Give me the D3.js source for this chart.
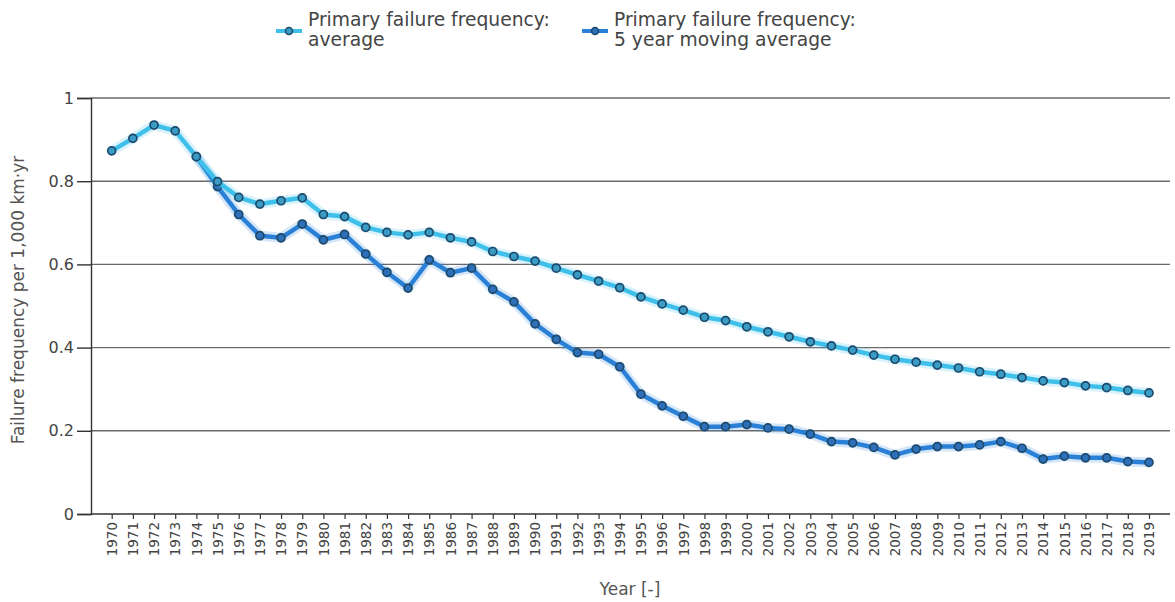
<!DOCTYPE html>
<html>
<head>
<meta charset="utf-8">
<script src="https://cdn.jsdelivr.net/npm/d3@7"></script>
<style>
  html, body { margin: 0; padding: 0; background: #fff; }
  svg { display: block; }
  text { font-family: "DejaVu Sans", Verdana, sans-serif; }
</style>
</head>
<body>
<svg id="chart" width="1175" height="602"></svg>
<script>
const years = d3.range(1970, 2020).map(String);

const averageValues = [
  0.873, 0.903, 0.935, 0.921, 0.859, 0.799, 0.761, 0.745, 0.753, 0.760,
  0.720, 0.715, 0.689, 0.677, 0.671, 0.677, 0.664, 0.654, 0.631, 0.619,
  0.608, 0.591, 0.575, 0.560, 0.544, 0.522, 0.505, 0.490, 0.473, 0.465,
  0.450, 0.438, 0.426, 0.414, 0.404, 0.394, 0.382, 0.372, 0.365, 0.358,
  0.351, 0.342, 0.336, 0.328, 0.320, 0.316, 0.308, 0.304, 0.297, 0.291
];

const movingYears = d3.range(1974, 2020).map(String);
const movingValues = [
  0.859, 0.787, 0.720, 0.669, 0.664, 0.697,
  0.659, 0.672, 0.625, 0.581, 0.543, 0.611, 0.580, 0.591, 0.540, 0.510,
  0.457, 0.420, 0.388, 0.384, 0.354, 0.288, 0.260, 0.235, 0.210, 0.210,
  0.215, 0.207, 0.204, 0.192, 0.174, 0.171, 0.160, 0.142, 0.156, 0.162,
  0.162, 0.166, 0.174, 0.158, 0.132, 0.139, 0.135, 0.135, 0.126, 0.124
];

const yTicks = [0, 0.2, 0.4, 0.6, 0.8, 1];
const yTickLabels = ["0", "0.2", "0.4", "0.6", "0.8", "1"];

const seriesNames = ["Primary failure frequency:|average", "Primary failure frequency:|5 year moving average"];
const seriesColors = ["#3fc0ea", "#2a80d6"];
const markerFill = ["#3a9cc4", "#2d6fb8"];
const markerStroke = "#1d4a6c";

const svg = d3.select("#chart");
const plotLeft = 91, plotRight = 1170, plotTop = 98, plotBottom = 514;

const x = d3.scalePoint().domain(years).range([111.7, 1149]);
const y = d3.scaleLinear().domain([0, 1]).range([plotBottom, plotTop]);

// Gridlines
svg.append("g").selectAll("line").data(yTicks.filter(d => d > 0)).join("line")
  .attr("x1", plotLeft).attr("x2", plotRight)
  .attr("y1", d => y(d)).attr("y2", d => y(d))
  .attr("stroke", "#6a6a6a").attr("stroke-width", 1.4);

// Y axis
const yAxis = d3.axisLeft(y).tickValues(yTicks)
  .tickFormat((d, i) => yTickLabels[i]).tickSize(14).tickPadding(3);
const yg = svg.append("g").attr("transform", `translate(${plotLeft},0)`).call(yAxis);
yg.select(".domain").attr("stroke", "#333").attr("stroke-width", 1.4);
yg.selectAll(".tick line").attr("stroke", "#333").attr("stroke-width", 1.4);
yg.selectAll(".tick text").attr("font-size", 16).attr("fill", "#444")
  .attr("font-family", "DejaVu Sans, Verdana, sans-serif");

// X axis
const xAxis = d3.axisBottom(x).tickSize(5).tickPadding(4);
const xg = svg.append("g").attr("transform", `translate(0,${plotBottom})`).call(xAxis);
xg.select(".domain").remove();
xg.append("line").attr("x1", plotLeft).attr("x2", plotRight).attr("y1", 0).attr("y2", 0)
  .attr("stroke", "#333").attr("stroke-width", 1.4);
xg.selectAll(".tick line").attr("stroke", "#333").attr("stroke-width", 1.2);
xg.selectAll(".tick text")
  .attr("font-size", 13.5).attr("fill", "#444")
  .attr("font-family", "DejaVu Sans, Verdana, sans-serif")
  .attr("transform", "rotate(-90)")
  .attr("text-anchor", "end")
  .attr("dy", "0.35em")
  .attr("x", -8).attr("y", 0);

// Axis titles
svg.append("text")
  .attr("transform", "translate(24,300) rotate(-90)")
  .attr("text-anchor", "middle").attr("font-size", 17).attr("fill", "#555")
  .text("Failure frequency per 1,000 km·yr");
svg.append("text")
  .attr("x", 630).attr("y", 595)
  .attr("text-anchor", "middle").attr("font-size", 17).attr("fill", "#555")
  .text("Year [-]");

// Lines
const series = [
  { cats: years, vals: averageValues },
  { cats: movingYears, vals: movingValues }
];
const line = d3.line().x(d => x(d[0])).y(d => y(d[1]));

[1, 0].forEach(i => {
  const pts = series[i].cats.map((c, k) => [c, series[i].vals[k]]);
  const g = svg.append("g");
  g.append("path").datum(pts).attr("d", line)
    .attr("fill", "none").attr("stroke", seriesColors[i]).attr("stroke-opacity", 0.2)
    .attr("stroke-width", 10).attr("stroke-linejoin", "round");
  g.append("path").datum(pts).attr("d", line)
    .attr("fill", "none").attr("stroke", seriesColors[i])
    .attr("stroke-width", 4.5).attr("stroke-linejoin", "round");
  g.selectAll("circle").data(pts).join("circle")
    .attr("cx", d => x(d[0])).attr("cy", d => y(d[1])).attr("r", 4)
    .attr("fill", markerFill[i]).attr("stroke", markerStroke).attr("stroke-width", 1.7);
});

// Legend
const legendPos = [{ x: 276, tx: 308 }, { x: 582, tx: 614 }];
seriesNames.forEach((name, i) => {
  const g = svg.append("g");
  const p = legendPos[i];
  g.append("line").attr("x1", p.x).attr("x2", p.x + 26).attr("y1", 31).attr("y2", 31)
    .attr("stroke", seriesColors[i]).attr("stroke-width", 4);
  g.append("circle").attr("cx", p.x + 13).attr("cy", 31).attr("r", 3.5)
    .attr("fill", markerFill[i]).attr("stroke", markerStroke).attr("stroke-width", 1.5);
  const lines = name.split("|");
  lines.forEach((t, k) => {
    g.append("text").attr("x", p.tx).attr("y", 26 + k * 20)
      .attr("font-size", 18.7).attr("fill", "#444").text(t);
  });
});
</script>
</body>
</html>
